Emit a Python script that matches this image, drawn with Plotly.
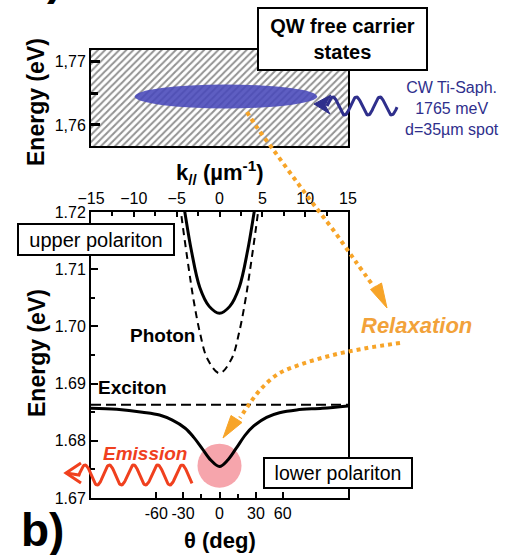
import numpy as np
import plotly.graph_objects as go

W, H = 509, 555

# ---- dispersion branches: in-plane wavevector k (µm^-1) vs energy (eV) ----
k_lower = [-15, -12, -9, -7, -5.5, -4, -3, -2, -1, 0, 1, 2, 3, 4, 5.5, 7, 9, 12, 15]
e_lower = [1.6857, 1.6855, 1.6850, 1.6845, 1.6836, 1.6822, 1.6806, 1.6786, 1.6766, 1.6755,
           1.6767, 1.6788, 1.6810, 1.6826, 1.6841, 1.6849, 1.6854, 1.6857, 1.6861]

k_upper = [-4.4, -4.05, -3.3, -2.3, -1.2, 0, 1.2, 2.3, 3.3, 4.05, 4.4]
e_upper = [1.7231, 1.7200, 1.7134, 1.7068, 1.7035, 1.7023, 1.7035, 1.7068, 1.7134, 1.7200, 1.7231]

k_photon = [-4.9, -4.5, -3.5, -3.0, -2.3, -1.4, 0, 1.4, 2.3, 3.0, 3.5, 4.5, 4.9]
e_photon = [1.7255, 1.7200, 1.7092, 1.7044, 1.6990, 1.6943, 1.6918,
            1.6943, 1.6990, 1.7044, 1.7092, 1.7200, 1.7255]

k_exciton = [-15, 15]
e_exciton = [1.6863, 1.6863]

# ---- axes ----
k_range = [-15, 15]
k_ticks = [-15, -10, -5, 0, 5, 10, 15]
e_range_lower = [1.67, 1.72]
e_range_upper = [1.75668, 1.77185]
e_ticks_upper = [1.76, 1.77]
e_ticklabels_upper = ["1,76", "1,77"]
theta_ticks = [-60, -30, 0, 30, 60]
theta_minor = [-15, 15]
photon_energy = 1.68      # eV, sets k = (E / hbar c) sin(theta)
HBAR_C = 0.19733          # eV µm

# ---- excitation / emission spots ----
pump_k = [-9.9, 11.4]
pump_e = [1.7626, 1.7664]
emit_k = [-2.57, 2.57]
emit_e = [1.6718, 1.6795]


def theta_to_k(t):
    return photon_energy / HBAR_C * np.sin(np.radians(t))


def fx(x):
    return x / W


def fy(y):
    return 1 - y / H


FONT = "Liberation Sans, Arial, sans-serif"
X_DOM = [fx(91), fx(348)]
Y_LOW = [fy(498), fy(212)]
Y_TOP = [fy(146), fy(50)]

fig = go.Figure()

# hatched free-carrier continuum
fig.add_trace(go.Scatter(
    x=[k_range[0], k_range[1], k_range[1], k_range[0], k_range[0]],
    y=[e_range_upper[0], e_range_upper[0], e_range_upper[1], e_range_upper[1], e_range_upper[0]],
    xaxis="x3", yaxis="y3", mode="lines", fill="toself", line=dict(width=0),
    fillcolor="white",
    fillpattern=dict(shape="/", size=5, solidity=0.4, fgcolor="#262626", bgcolor="white"),
    hoverinfo="skip", showlegend=False))

# exciton and photon (dashed), polaritons (solid); drawn against the k axis on top
fig.add_trace(go.Scatter(x=k_exciton, y=e_exciton, xaxis="x2", yaxis="y", mode="lines",
                         line=dict(color="black", width=2, dash="10px,5px"),
                         showlegend=False, hoverinfo="skip"))
fig.add_trace(go.Scatter(x=k_photon, y=e_photon, xaxis="x2", yaxis="y", mode="lines",
                         line_shape="spline",
                         line=dict(color="black", width=2, dash="7px,5px"),
                         showlegend=False, hoverinfo="skip"))
fig.add_trace(go.Scatter(x=k_upper, y=e_upper, xaxis="x2", yaxis="y", mode="lines",
                         line_shape="spline", line=dict(color="black", width=3),
                         showlegend=False, hoverinfo="skip"))
fig.add_trace(go.Scatter(x=k_lower, y=e_lower, xaxis="x", yaxis="y", mode="lines",
                         line_shape="spline", line=dict(color="black", width=3),
                         showlegend=False, hoverinfo="skip"))

# ---- decorative arrows on a full-figure pixel canvas ----
ORANGE = "#f7a428"
BLUE = "#2f2f8c"
RED = "#f0401e"


def deco(xs, ys, color, width, dash=None, shape="linear", fill=None):
    fig.add_trace(go.Scatter(
        x=xs, y=ys, xaxis="x4", yaxis="y4", mode="lines", line_shape=shape,
        line=dict(color=color, width=width, dash=dash),
        fill=fill, fillcolor=color if fill else None,
        showlegend=False, hoverinfo="skip"))


# relaxation path from the pump spot down to the polariton region
deco([247, 256, 272, 291, 311, 334, 356, 374],
     [112, 126, 148, 174, 201, 231, 262, 287], ORANGE, 4, "4px,4px", "spline")
deco([387, 370.5, 381.5, 387], [308, 289.5, 283, 308], ORANGE, 1, fill="toself")

deco([400, 367, 333, 302, 278, 260, 248, 240],
     [343, 348, 355, 364, 374, 390, 406, 418], ORANGE, 4, "4px,4px", "spline")
deco([223, 242, 231, 223], [438, 422.5, 415.5, 438], ORANGE, 1, fill="toself")

# pump laser wave
xb = np.linspace(327, 397, 120)
deco(list(xb), list(106 - 9 * np.sin(2 * np.pi * (xb - 327) / 23.5)), BLUE, 3)
deco([314, 331, 325, 330, 314], [104, 95, 105, 114, 104], BLUE, 1, fill="toself")

# emitted light wave
xr = np.linspace(79, 192, 160)
deco([66, 79] + list(xr), [473, 475] + list(475 - 10 * np.sin(2 * np.pi * (xr - 79) / 24.25)), RED, 3)
deco([81, 66, 81], [463, 473, 483], RED, 3)

# ---- highlight spots ----
fig.add_shape(type="circle", xref="x", yref="y", layer="below",
              x0=emit_k[0], x1=emit_k[1], y0=emit_e[0], y1=emit_e[1],
              fillcolor="#f6a5ac", line=dict(width=0))
fig.add_shape(type="circle", xref="x3", yref="y3", layer="above",
              x0=pump_k[0], x1=pump_k[1], y0=pump_e[0], y1=pump_e[1],
              fillcolor="rgba(72,72,185,0.88)", line=dict(width=0))


# ---- text ----
def note(x, y, text, size, color="black", **kw):
    fig.add_annotation(x=fx(x), y=fy(y), xref="paper", yref="paper", text=text,
                       showarrow=False, xanchor="center", yanchor="middle",
                       font=dict(family=FONT, size=size, color=color), **kw)


note(342, 39, "<b>QW free carrier<br>states</b>", 20, bgcolor="white", bordercolor="black",
     borderwidth=2, borderpad=0, width=167, height=60)
note(96, 239.5, "upper polariton", 20, bgcolor="white", bordercolor="black",
     borderwidth=2, borderpad=0, width=154, height=29)
note(338, 473, "lower polariton", 19.5, bgcolor="white", bordercolor="black",
     borderwidth=2, borderpad=0, width=146, height=28)

note(452, 108, "CW Ti-Saph.<br>1765 meV<br>d=35µm spot", 16, BLUE)
note(162, 335, "<b>Photon</b>", 19)
note(132, 387, "<b>Exciton</b>", 19)
note(416, 325, "<b><i>Relaxation</i></b>", 22, "#f2a23a")
note(145, 453, "<b><i>Emission</i></b>", 19, RED)

note(36, 102, "<b>Energy (eV)</b>", 23, textangle=-90)
note(37, 353, "<b>Energy (eV)</b>", 23, textangle=-90)
note(220, 173, "<b>k<sub>//</sub> (µm<sup>-1</sup>)</b>", 22)
note(220, 540, "<b>θ (deg)</b>", 22)
note(42, 530, "<b>b)</b>", 46)
note(54, -22, "<b>)</b>", 46)

# ---- layout ----
axis_common = dict(showline=True, linecolor="black", linewidth=2, showgrid=False,
                   zeroline=False, tickcolor="black", automargin=False,
                   tickfont=dict(family=FONT, size=16, color="black"))

fig.update_layout(
    width=W, height=H, autosize=False,
    margin=dict(l=0, r=0, t=0, b=0, pad=0, autoexpand=False),
    paper_bgcolor="white", plot_bgcolor="rgba(0,0,0,0)",
    showlegend=False,
    xaxis=dict(domain=X_DOM, anchor="y", range=k_range, tickmode="array",
               tickvals=[theta_to_k(t) for t in theta_ticks],
               ticktext=[str(t) for t in theta_ticks],
               ticks="inside", ticklen=6, tickwidth=2,
               minor=dict(tickmode="array", tickvals=[theta_to_k(t) for t in theta_minor],
                          ticks="inside", ticklen=4, tickwidth=1.5, tickcolor="black"),
               **axis_common),
    xaxis2=dict(overlaying="x", side="top", anchor="y", range=k_range,
                tickmode="array", tickvals=k_ticks, ticks="inside", ticklen=5, tickwidth=2,
                minor=dict(tickmode="array", tickvals=[-12.5, -7.5, -2.5, 2.5, 7.5, 12.5],
                           ticks="inside", ticklen=4, tickwidth=1.5, tickcolor="black"),
                **axis_common),
    yaxis=dict(domain=Y_LOW, anchor="x", range=e_range_lower, dtick=0.01, tick0=1.67,
               tickformat=".2f", ticks="inside", ticklen=7, tickwidth=2, mirror=True,
               minor=dict(dtick=0.005, tick0=1.67, ticks="inside", ticklen=4, tickwidth=1.5,
                          tickcolor="black"),
               **axis_common),
    xaxis3=dict(domain=X_DOM, anchor="y3", range=k_range, showticklabels=False, ticks="",
                mirror=True, **axis_common),
    yaxis3=dict(domain=Y_TOP, anchor="x3", range=e_range_upper, tickmode="array",
                tickvals=e_ticks_upper, ticktext=e_ticklabels_upper, ticks="inside",
                ticklen=9, tickwidth=3, mirror=True,
                minor=dict(tickmode="array", tickvals=[1.765], ticks="inside", ticklen=7,
                           tickwidth=3, tickcolor="black"),
                **axis_common),
    xaxis4=dict(domain=[0, 1], anchor="y4", range=[0, W], visible=False, fixedrange=True,
                automargin=False),
    yaxis4=dict(domain=[0, 1], anchor="x4", range=[H, 0], visible=False, fixedrange=True,
                automargin=False),
)

fig.write_html("out.html")
